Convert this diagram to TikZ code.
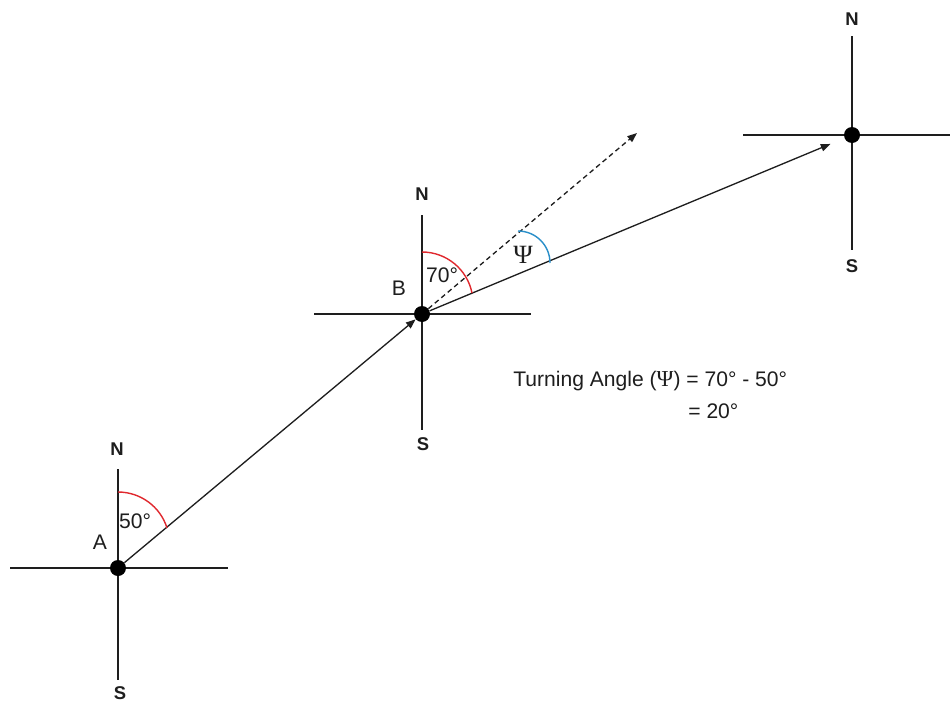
\documentclass[tikz,border=0pt]{standalone}
\usepackage{fontspec}
\setmainfont{Liberation Sans}
\newfontfamily\greekserif{Liberation Serif}
\usetikzlibrary{arrows.meta}
\definecolor{arcred}{HTML}{E0282E}
\definecolor{arcblue}{HTML}{2A8FC9}
\definecolor{ink}{HTML}{1E1E1E}
\begin{document}
\begin{tikzpicture}[x=0.02cm,y=-0.02cm,
  axisline/.style={line width=0.75pt, draw=ink},
  dot/.style={circle, fill=black, inner sep=0pt, minimum size=0.32cm},
  dirlabel/.style={font=\fontsize{10.5}{12}\selectfont\bfseries, text=ink, inner sep=0pt},
  ptlabel/.style={font=\fontsize{12}{14}\selectfont, text=ink, inner sep=0pt},
  txt/.style={font=\fontsize{12}{14}\selectfont, text=ink, inner sep=0pt, anchor=west},
  course/.style={line width=0.75pt, draw=ink, -{Triangle[length=5.5pt,width=4.2pt]}},
  redarc/.style={line width=0.8pt, draw=arcred},
  bluearc/.style={line width=0.8pt, draw=arcblue}
]
\useasboundingbox (0,0) rectangle (950,703);
\fill[white] (0,0) rectangle (950,703);

% ---------- compass A ----------
\coordinate (An) at (118,469);
\coordinate (As) at (118,680);
\coordinate (Aw) at (10,568);
\coordinate (Ae) at (228,568);
\draw[axisline] (An) -- (As);
\draw[axisline] (Aw) -- (Ae);
\node[dirlabel] (AN) at (117,449) {N};
\node[dirlabel] (AS) at (120,693) {S};

% ---------- compass B ----------
\coordinate (Bn) at (422,215);
\coordinate (Bs) at (422,430);
\coordinate (Bw) at (314,314);
\coordinate (Be) at (531,314);
\draw[axisline] (Bn) -- (Bs);
\draw[axisline] (Bw) -- (Be);
\node[dirlabel] (BN) at (422,194) {N};
\node[dirlabel] (BS) at (423,444) {S};

% ---------- compass C ----------
\coordinate (Cn) at (852,36);
\coordinate (Cs) at (852,250);
\coordinate (Cw) at (743,135);
\coordinate (Ce) at (950,135);
\draw[axisline] (Cn) -- (Cs);
\draw[axisline] (Cw) -- (Ce);
\node[dirlabel] (CN) at (852,19) {N};
\node[dirlabel] (CS) at (852,266) {S};

% ---------- points ----------
\node[dot] (A) at (118,568) {};
\node[dot] (B) at (422,314) {};
\node[dot] (C) at (852,135) {};
\coordinate (D) at (637,133);

% ---------- courses ----------
\draw[course] (A) -- (B);
\draw[course, shorten >=8.5pt] (B) -- (C);
\draw[line width=0.75pt, draw=ink, dash pattern=on 2.8pt off 2pt, -{Triangle[length=5.5pt,width=4.2pt]}] (B) -- (D);

% ---------- angle arcs ----------
\draw[redarc] (118,492) .. controls (140.4,492) and (160.4,506.6) .. (167,528);
\draw[redarc] (422,252) .. controls (446.3,252) and (467.2,269.2) .. (472,293);
\draw[bluearc] (518,231) .. controls (535.7,231) and (550,245.3) .. (550,263);

% ---------- labels ----------
\node[ptlabel] (Alab) at (100,542) {A};
\node[ptlabel] (a50) at (135,521) {50°};
\node[ptlabel] (Blab) at (399,288) {B};
\node[ptlabel] (a70) at (442,275) {70°};
\node[font={\fontsize{15}{17}\greekserif\selectfont}, text=ink, inner sep=0pt] (psi) at (523,255) {Ψ};

\node[txt] (t1) at (513,381) {Turning Angle ({\fontsize{13}{15}\greekserif\selectfont Ψ}) = 70° - 50°};
\node[txt] (t2) at (688,411) {= 20°};
\end{tikzpicture}
\end{document}
